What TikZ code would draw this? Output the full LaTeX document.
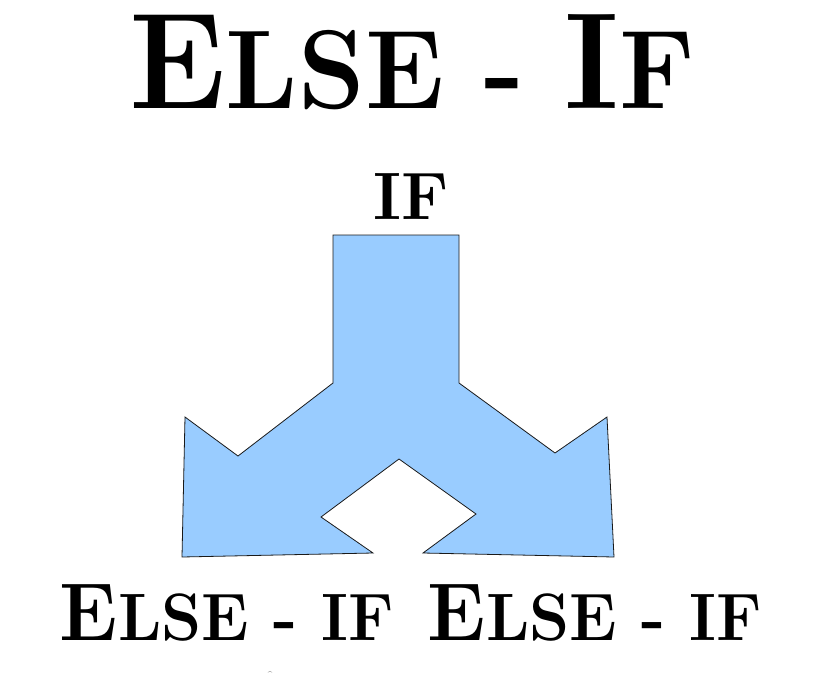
\documentclass[tikz,border=0pt]{standalone}
\usepackage{fontspec}
\definecolor{arrowblue}{HTML}{99CCFF}
\definecolor{edgegray}{HTML}{1A1A1A}
\newcommand{\scfs}[2]{{\fontsize{#1}{#1}\selectfont #2}}
\tikzset{
  lbl/.style={inner sep=0pt, outer sep=0pt, anchor=base, font=\bfseries, text=black, text depth=0pt},
  forkshape/.style={fill=arrowblue, draw=edgegray, line width=0.8pt, line join=miter}
}
\begin{document}
\begin{tikzpicture}[x=1pt,y=-1pt]
\useasboundingbox (0,0) rectangle (814,678);
\fill[white] (0,0) rectangle (814,678);
% fork arrow shape
\draw[forkshape] (333,235) -- (459,235) -- (459,383) -- (555,453) -- (607,417)
  -- (614,557) -- (423,553) -- (476,514) -- (399,459) -- (321,517)
  -- (373,553) -- (182,557) -- (185,417) -- (238,456) -- (333,383) -- cycle;
% texts
\node[lbl, text height=94pt, xscale=0.955] (title) at (412,108) {\scfs{137pt}{E}\scfs{112pt}{LSE - }\scfs{137pt}{I}\scfs{112pt}{F}};
\node[lbl, text height=46pt] (iflabel) at (411,219) {\scfs{67pt}{IF}};
\node[lbl, text height=56pt, xscale=0.96] (elseifA) at (227,640) {\scfs{82pt}{E}\scfs{67pt}{LSE - IF}};
\node[lbl, text height=56pt, xscale=0.96] (elseifB) at (595,640) {\scfs{82pt}{E}\scfs{67pt}{LSE - IF}};
\node[inner sep=0pt, font=\fontsize{8pt}{8pt}\selectfont, text=black!70] (caret) at (270,675) {\textasciicircum};
\end{tikzpicture}
\end{document}
